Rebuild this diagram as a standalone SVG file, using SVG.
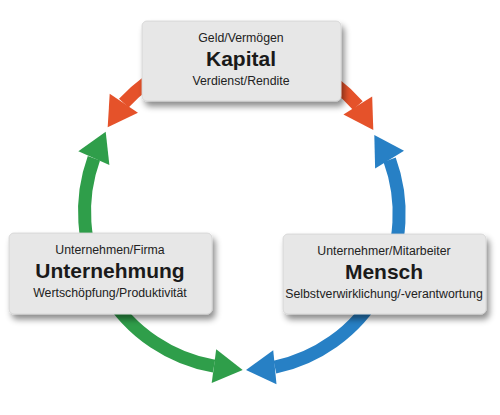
<svg xmlns="http://www.w3.org/2000/svg" width="500" height="415" viewBox="0 0 500 415">
  <style>
    .shaft { fill: none; stroke-width: 13; stroke-linecap: butt; }
    .red { stroke: #E5522A; fill: #E5522A; }
    .green { stroke: #2F9E4A; fill: #2F9E4A; }
    .blue { stroke: #2780C5; fill: #2780C5; }
    .head { stroke: none; }
    .box { fill: #E7E7E7; stroke: #D3D3D3; stroke-width: 0.8; filter: url(#shadow); }
    .small { font-family: "Liberation Sans", Arial, sans-serif; font-size: 12.3px; fill: #222; text-anchor: middle; }
    .title { font-family: "Liberation Sans", Arial, sans-serif; font-size: 21px; font-weight: bold; fill: #1a1a1a; text-anchor: middle; }
  </style>
  <defs>
    <filter id="shadow" x="-10%" y="-20%" width="125%" height="150%">
      <feDropShadow dx="3" dy="5" stdDeviation="3" flood-color="#000" flood-opacity="0.45"/>
    </filter>
    <path id="arrowhead" d="M0,0 L-29,-17 L-29,17 z"/>
  </defs>

  <g id="connectors">
    <g id="arrows-kapital">
      <path class="shaft red" style="fill:none" d="M123.8,103.2 A157,157 0 0 1 357.8,105.5"/>
      <use href="#arrowhead" class="head red" transform="translate(107.7,127.3) rotate(123.8)"/>
      <use href="#arrowhead" class="head red" transform="translate(373.3,130) rotate(57.7)"/>
    </g>
    <g id="arrows-unternehmung">
      <path class="shaft green" style="fill:none" d="M93.9,158.2 A157,157 0 0 0 214,366.2"/>
      <use href="#arrowhead" class="head green" transform="translate(105.7,131.7) rotate(-65.9)"/>
      <use href="#arrowhead" class="head green" transform="translate(242.7,370) rotate(7.6)"/>
    </g>
    <g id="arrows-mensch">
      <path class="shaft blue" style="fill:none" d="M389.6,159.7 A157,157 0 0 1 274.9,367.2"/>
      <use href="#arrowhead" class="head blue" transform="translate(374.3,135) rotate(-121.8)"/>
      <use href="#arrowhead" class="head blue" transform="translate(246,370) rotate(174.5)"/>
    </g>
  </g>

  <g id="kapital">
    <rect class="box" x="142" y="21" width="199" height="80" rx="5"/>
    <text class="small" x="241" y="42">Geld/Vermögen</text>
    <text class="title" x="241" y="66">Kapital</text>
    <text class="small" x="241" y="85">Verdienst/Rendite</text>
  </g>

  <g id="unternehmung">
    <rect class="box" x="9" y="233" width="203" height="81" rx="5"/>
    <text class="small" x="110" y="254">Unternehmen/Firma</text>
    <text class="title" x="110" y="278">Unternehmung</text>
    <text class="small" x="110" y="297">Wertschöpfung/Produktivität</text>
  </g>

  <g id="mensch">
    <rect class="box" x="283" y="234" width="203" height="80" rx="5"/>
    <text class="small" x="384" y="255">Unternehmer/Mitarbeiter</text>
    <text class="title" x="384" y="279">Mensch</text>
    <text class="small" x="384" y="298">Selbstverwirklichung/-verantwortung</text>
  </g>
</svg>
